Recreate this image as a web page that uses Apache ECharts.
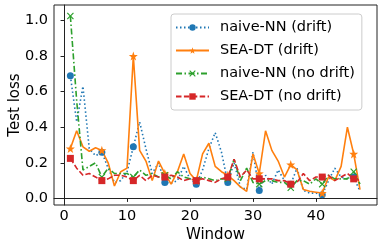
<!DOCTYPE html>
<html>
<head>
<meta charset="utf-8">
<script src="https://cdn.jsdelivr.net/npm/echarts@6/dist/echarts.min.js"></script>
<style>html,body{margin:0;padding:0;background:#fff;}#c{width:382px;height:250px;}</style>
</head>
<body>
<div id="c"></div>
<script>
const windows = [1,2,3,4,5,6,7,8,9,10,11,12,13,14,15,16,17,18,19,20,21,22,23,24,25,26,27,28,29,30,31,32,33,34,35,36,37,38,39,40,41,42,43,44,45,46,47];
const naiveDrift = [0.69,0.43,0.63,0.28,0.24,0.26,0.17,0.09,0.10,0.15,0.29,0.43,0.28,0.14,0.20,0.09,0.085,0.10,0.18,0.11,0.08,0.16,0.28,0.37,0.26,0.09,0.20,0.065,0.05,0.26,0.045,0.13,0.08,0.16,0.10,0.08,0.17,0.045,0.03,0.03,0.02,0.10,0.17,0.12,0.11,0.12,0.04];
const seaDrift = [0.28,0.38,0.29,0.265,0.285,0.27,0.20,0.07,0.15,0.17,0.80,0.27,0.21,0.10,0.21,0.14,0.08,0.15,0.25,0.14,0.10,0.25,0.31,0.18,0.15,0.13,0.10,0.065,0.04,0.25,0.14,0.38,0.27,0.21,0.12,0.19,0.16,0.05,0.04,0.035,0.03,0.12,0.10,0.18,0.40,0.25,0.05];
const naiveNoDrift = [1.025,0.55,0.16,0.18,0.20,0.12,0.17,0.14,0.14,0.14,0.12,0.16,0.13,0.14,0.12,0.13,0.11,0.15,0.12,0.11,0.10,0.12,0.11,0.10,0.11,0.11,0.22,0.10,0.17,0.09,0.08,0.10,0.10,0.09,0.09,0.06,0.10,0.10,0.08,0.11,0.08,0.13,0.11,0.11,0.11,0.15,0.08];
const seaNoDrift = [0.225,0.17,0.13,0.14,0.12,0.10,0.11,0.13,0.13,0.12,0.10,0.13,0.10,0.13,0.12,0.12,0.13,0.12,0.10,0.11,0.10,0.11,0.10,0.09,0.11,0.12,0.22,0.12,0.16,0.11,0.11,0.11,0.11,0.10,0.10,0.08,0.09,0.14,0.10,0.12,0.12,0.13,0.10,0.12,0.14,0.11,0.10];
const seriesNames = ['naive-NN (drift)','SEA-DT (drift)','naive-NN (no drift)','SEA-DT (no drift)'];
const xTicks = [0,10,20,30,40];
const yTicks = [0,0.2,0.4,0.6,0.8,1.0];

const STAR = 'path://M0,-10 L2.35,-3.24 L9.51,-3.09 L3.8,1.24 L5.88,8.09 L0,4 L-5.88,8.09 L-3.8,1.24 L-9.51,-3.09 L-2.35,-3.24 Z';
const XMARK = 'path://M0,1.2 L1.2,0 L5,3.8 L8.8,0 L10,1.2 L6.2,5 L10,8.8 L8.8,10 L5,6.2 L1.2,10 L0,8.8 L3.8,5 Z';

function pts(arr){ return windows.map((w,i)=>[w, arr[i]]); }
function every5(size){ return function(v, p){ return p.dataIndex % 5 === 0 ? size : 0; }; }

function mk(name, arr, color, dash, symbol, size){
  return {
    name: name, type: 'line', data: pts(arr),
    symbol: symbol, symbolSize: every5(size), showSymbol: true, showAllSymbol: true,
    lineStyle: {color: color, width: 1.6, type: dash},
    itemStyle: {color: color},
    animation: false, silent: true, clip: false
  };
}

const chart = echarts.init(document.getElementById('c'), null, {renderer: 'canvas'});
chart.setOption({
  animation: false,
  textStyle: {fontFamily: 'DejaVu Sans'},
  grid: {left: 54, right: 5, top: 5, bottom: 45, show: true, borderColor: '#222', borderWidth: 1, containLabel: false, outerBoundsMode: 'none'},
  legend: {
    data: seriesNames,
    orient: 'vertical', left: 171, top: 14,
    padding: [6, 7, 6, 4], itemGap: 8,
    itemWidth: 33, itemHeight: 8,
    backgroundColor: 'rgba(255,255,255,0.8)', borderColor: '#ccc', borderWidth: 1, borderRadius: 3,
    textStyle: {fontFamily: 'DejaVu Sans', fontSize: 14.5, color: '#000', padding: [0,0,0,6], lineHeight: 14}
  },
  xAxis: {
    type: 'value', min: -1.6, max: 49.7,
    name: 'Window', nameLocation: 'middle', nameGap: 23, nameMoveOverlap: false,
    nameTextStyle: {fontFamily: 'DejaVu Sans', fontSize: 15, color: '#000'},
    axisLine: {show: true, lineStyle: {color: '#222', width: 1}},
    axisTick: {show: true, length: 3.5, inside: false, lineStyle: {color: '#222', width: 1}, customValues: xTicks},
    axisLabel: {fontFamily: 'DejaVu Sans', fontSize: 14.5, color: '#000', margin: 4, customValues: xTicks},
    splitLine: {show: false}
  },
  yAxis: {
    type: 'value', min: -0.037, max: 1.087,
    name: 'Test loss', nameLocation: 'middle', nameGap: 31, nameRotate: 90, nameMoveOverlap: false,
    nameTextStyle: {fontFamily: 'DejaVu Sans', fontSize: 15, color: '#000'},
    axisLine: {show: true, lineStyle: {color: '#222', width: 1}},
    axisTick: {show: true, length: 3.5, inside: false, lineStyle: {color: '#222', width: 1}, customValues: yTicks},
    axisLabel: {fontFamily: 'DejaVu Sans', fontSize: 14.5, color: '#000', margin: 6, customValues: yTicks, formatter: v => v.toFixed(1)},
    splitLine: {show: false}
  },
  series: [
    mk(seriesNames[0], naiveDrift, '#1f77b4', [1.5, 2.5], 'circle', 7),
    mk(seriesNames[1], seaDrift, '#ff7f0e', 'solid', STAR, 9),
    mk(seriesNames[2], naiveNoDrift, '#2ca02c', [6, 2.5, 1.5, 2.5], XMARK, 7),
    mk(seriesNames[3], seaNoDrift, '#d62728', [5.5, 2.4], 'rect', 7)
  ]
});
</script>
</body>
</html>
